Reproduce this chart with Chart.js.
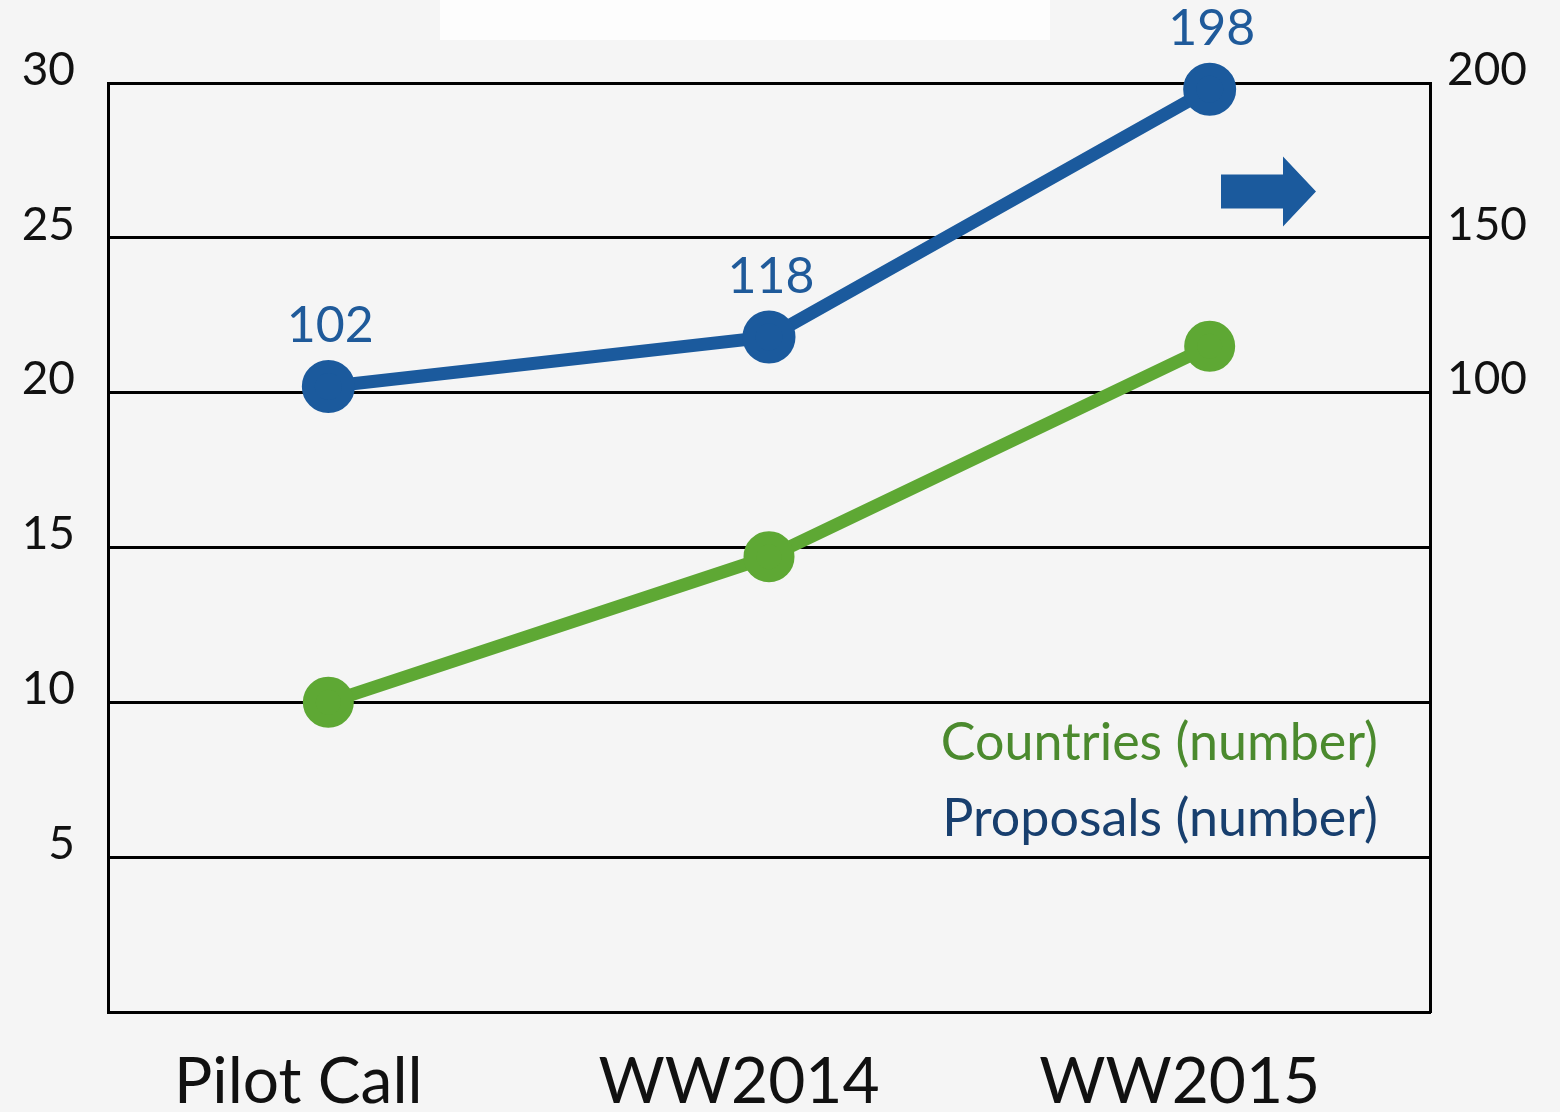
<!DOCTYPE html>
<html>
<head>
<meta charset="utf-8">
<script src="https://cdn.jsdelivr.net/npm/chart.js@4.4.1/dist/chart.umd.min.js"></script>
<style>
  html, body { margin: 0; padding: 0; background: #f5f5f5; }
  #wrap { position: relative; width: 1560px; height: 1112px; overflow: hidden; }
  #topband { position: absolute; left: 440px; top: 0; width: 610px; height: 40px; background: #fdfdfd; }
  canvas { position: absolute; left: 0; top: 0; }
</style>
</head>
<body>
<div id="wrap">
  <div id="topband"></div>
  <canvas id="chart" width="1560" height="1112"></canvas>
</div>
<script>
const categories = ["Pilot Call", "WW2014", "WW2015"];
const countries = [10, 14.7, 21.5];
const proposals = [102, 118, 198];
const leftTicks = [5, 10, 15, 20, 25, 30];
const rightTicks = [100, 150, 200];
const legendLabels = ["Countries (number)", "Proposals (number)"];

const BLUE = "#1b5a9d";
const GREEN = "#5ea834";
const FONT = "Lato, 'Open Sans', sans-serif";

// value labels above the blue points
const valueLabels = {
  id: "valueLabels",
  afterDatasetsDraw(chart) {
    const ctx = chart.ctx;
    const meta = chart.getDatasetMeta(1);
    ctx.save();
    ctx.font = "50px " + FONT;
    ctx.fillStyle = "#1f5a9a";
    ctx.textAlign = "center";
    ctx.textBaseline = "alphabetic";
    meta.data.forEach((pt, i) => {
      ctx.fillText(String(proposals[i]), pt.x + 2, pt.y - 44);
    });
    ctx.restore();
  }
};

// text legend + arrow pointing to the right axis
const extras = {
  id: "extras",
  afterDraw(chart) {
    const ctx = chart.ctx;
    const a = chart.chartArea;
    const y1 = chart.scales.y1;
    ctx.save();
    ctx.font = "52px " + FONT;
    ctx.textAlign = "right";
    ctx.textBaseline = "alphabetic";
    ctx.fillStyle = "#4b8a2e";
    ctx.fillText(legendLabels[0], a.right - 52, 760);
    ctx.fillStyle = "#183f6e";
    ctx.fillText(legendLabels[1], a.right - 52, 836);

    // arrow
    const cy = y1.getPixelForValue(165);
    const x0 = a.right - 209;
    ctx.fillStyle = BLUE;
    ctx.beginPath();
    ctx.moveTo(x0, cy - 17);
    ctx.lineTo(x0 + 62, cy - 17);
    ctx.lineTo(x0 + 62, cy - 35);
    ctx.lineTo(x0 + 95, cy);
    ctx.lineTo(x0 + 62, cy + 35);
    ctx.lineTo(x0 + 62, cy + 17);
    ctx.lineTo(x0, cy + 17);
    ctx.closePath();
    ctx.fill();
    ctx.restore();
  }
};

new Chart(document.getElementById("chart"), {
  type: "line",
  data: {
    labels: categories,
    datasets: [
      {
        label: legendLabels[0],
        data: countries,
        yAxisID: "y",
        borderColor: GREEN,
        backgroundColor: GREEN,
        borderWidth: 13,
        pointRadius: 19,
        pointHoverRadius: 19,
        tension: 0,
        clip: false
      },
      {
        label: legendLabels[1],
        data: proposals,
        yAxisID: "y1",
        borderColor: BLUE,
        backgroundColor: BLUE,
        borderWidth: 13,
        pointRadius: 20,
        pointHoverRadius: 20,
        tension: 0,
        clip: false
      }
    ]
  },
  options: {
    responsive: false,
    animation: false,
    layout: { padding: { top: 83, left: 0, right: 0, bottom: 0 } },
    plugins: {
      legend: { display: false },
      tooltip: { enabled: false }
    },
    scales: {
      x: {
        type: "category",
        offset: true,
        grid: { display: false },
        border: { display: true, color: "#000", width: 3 },
        ticks: {
          color: "#111",
          font: { family: FONT, size: 64 },
          padding: 24,
          labelOffset: -30
        },
        afterFit(s) { s.height = 100; }
      },
      y: {
        position: "left",
        min: 0,
        max: 30,
        grid: { color: "#000", lineWidth: 3, drawTicks: false },
        border: { display: true, color: "#000", width: 3 },
        afterBuildTicks(s) { s.ticks = [0].concat(leftTicks).map(v => ({ value: v })); },
        ticks: {
          color: "#111",
          font: { family: FONT, size: 46 },
          padding: 33,
          labelOffset: -13,
          callback: v => leftTicks.includes(v) ? String(v) : ""
        },
        afterFit(s) { s.width = 108; }
      },
      y1: {
        position: "right",
        min: -100,
        max: 200,
        grid: { display: false, drawTicks: false },
        border: { display: true, color: "#000", width: 3 },
        afterBuildTicks(s) { s.ticks = rightTicks.map(v => ({ value: v })); },
        ticks: {
          color: "#111",
          font: { family: FONT, size: 46 },
          padding: 17,
          labelOffset: -13
        },
        afterFit(s) { s.width = 130; }
      }
    }
  },
  plugins: [valueLabels, extras]
});
</script>
</body>
</html>
